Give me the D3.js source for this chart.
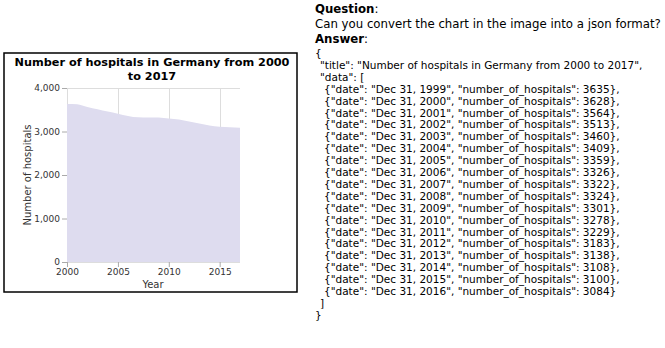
<!DOCTYPE html>
<html>
<head>
<meta charset="utf-8">
<script src="https://cdn.jsdelivr.net/npm/d3@7"></script>
<style>
  html, body { margin: 0; padding: 0; background: #fff; }
  svg { display: block; }
  text { font-family: "DejaVu Sans", sans-serif; }
</style>
</head>
<body>
<svg id="chart" width="665" height="348"></svg>
<script>
// ---- data ----
const chartTitle = ["Number of hospitals in Germany from 2000", "to 2017"];
const fullTitle = "Number of hospitals in Germany from 2000 to 2017";
const dates = ["Dec 31, 1999", "Dec 31, 2000", "Dec 31, 2001", "Dec 31, 2002", "Dec 31, 2003",
  "Dec 31, 2004", "Dec 31, 2005", "Dec 31, 2006", "Dec 31, 2007", "Dec 31, 2008", "Dec 31, 2009",
  "Dec 31, 2010", "Dec 31, 2011", "Dec 31, 2012", "Dec 31, 2013", "Dec 31, 2014", "Dec 31, 2015",
  "Dec 31, 2016"];
const hospitals = [3635, 3628, 3564, 3513, 3460, 3409, 3359, 3326, 3322, 3324, 3301, 3278, 3229,
  3183, 3138, 3108, 3100, 3084];
const yTicks = [0, 1000, 2000, 3000, 4000];
const xTickYears = [2000, 2005, 2010, 2015];
const xTitle = "Year";
const yTitle = "Number of hospitals";
const question = "Can you convert the chart in the image into a json format?";

const parse = d3.timeParse("%b %d, %Y");
const data = dates.map((d, i) => ({ label: d, date: parse(d), value: hospitals[i] }));

const svg = d3.select("#chart");
svg.append("rect").attr("width", 665).attr("height", 348).attr("fill", "#fff");

// fit a text's font size so its width matches a target
function fitSize(sel, base, target) {
  sel.attr("font-size", base);
  const w = sel.node().getComputedTextLength();
  const s = base * target / w;
  sel.attr("font-size", s);
  return s;
}

// ---- chart box ----
svg.append("rect").attr("x", 4).attr("y", 53).attr("width", 293).attr("height", 239)
  .attr("fill", "#fff").attr("stroke", "#000").attr("stroke-width", 1.5);

const plot = { left: 67, right: 240, top: 88, bottom: 262 };
const x = d3.scaleTime()
  .domain(d3.extent(data, d => d.date))
  .range([plot.left, plot.right]);
const y = d3.scaleLinear().domain([0, 4000]).range([plot.bottom, plot.top]);
const xTickDates = xTickYears.map(yr => new Date(yr, 0, 1));

// grid
const g = svg.append("g");
g.selectAll("line.hg").data(yTicks).join("line")
  .attr("x1", plot.left).attr("x2", plot.right)
  .attr("y1", d => Math.round(y(d)) + 0.5).attr("y2", d => Math.round(y(d)) + 0.5)
  .attr("stroke", "#ddd").attr("stroke-width", 1);
g.selectAll("line.vg").data(xTickDates).join("line")
  .attr("x1", d => Math.round(x(d)) + 0.5).attr("x2", d => Math.round(x(d)) + 0.5)
  .attr("y1", plot.top).attr("y2", plot.bottom)
  .attr("stroke", "#ddd").attr("stroke-width", 1);

// area
const area = d3.area()
  .x(d => x(d.date)).y0(y(0)).y1(d => y(d.value))
  .curve(d3.curveMonotoneX);
svg.append("path").datum(data).attr("d", area).attr("fill", "#dedcef");

// axes
const yAxis = d3.axisLeft(y).tickValues(yTicks).tickFormat(d3.format(",")).tickSize(5).tickPadding(2);
const yg = svg.append("g").attr("transform", `translate(${plot.left},0)`).call(yAxis);
yg.select(".domain").remove();
yg.selectAll(".tick line").attr("stroke", "#aaa");
yg.selectAll(".tick text").attr("font-family", "DejaVu Sans").attr("font-size", 9).attr("fill", "#333");

const xAxis = d3.axisBottom(x).tickValues(xTickDates).tickFormat(d3.timeFormat("%Y")).tickSize(5).tickPadding(2);
const xg = svg.append("g").attr("transform", `translate(0,${plot.bottom})`).call(xAxis);
xg.select(".domain").remove();
xg.selectAll(".tick line").attr("stroke", "#aaa");
xg.selectAll(".tick text").attr("font-family", "DejaVu Sans").attr("font-size", 9).attr("fill", "#333");

// titles
svg.append("text").attr("x", 153).attr("y", 288).attr("text-anchor", "middle")
  .attr("font-size", 10).attr("fill", "#333").text(xTitle);
svg.append("text").attr("transform", "translate(31,175) rotate(-90)").attr("text-anchor", "middle")
  .attr("font-size", 10).attr("fill", "#333").text(yTitle);
const t1 = svg.append("text").attr("x", 152).attr("y", 66).attr("text-anchor", "middle")
  .attr("font-weight", "bold").attr("fill", "#000").text(chartTitle[0]);
const tSize = fitSize(t1, 11, 275);
svg.append("text").attr("x", 152).attr("y", 80).attr("text-anchor", "middle")
  .attr("font-size", tSize).attr("font-weight", "bold").attr("fill", "#000").text(chartTitle[1]);

// ---- Q&A text ----
const tx = 315;
const qLine = svg.append("text").attr("x", tx).attr("y", 28).attr("fill", "#000").text(question);
const qSize = fitSize(qLine, 12, 346);
const q = svg.append("text").attr("x", tx).attr("y", 13).attr("font-size", qSize).attr("fill", "#000");
q.append("tspan").attr("font-weight", "bold").text("Question");
q.append("tspan").text(":");
const a = svg.append("text").attr("x", tx).attr("y", 43).attr("font-size", qSize).attr("fill", "#000");
a.append("tspan").attr("font-weight", "bold").text("Answer");
a.append("tspan").text(":");

const jsonLines = [];
jsonLines.push({ indent: 0, text: "{" });
jsonLines.push({ indent: 1, text: `"title": "${fullTitle}",` });
jsonLines.push({ indent: 1, text: `"data": [` });
data.forEach((d, i) => {
  jsonLines.push({ indent: 2, text: `{"date": "${d.label}", "number_of_hospitals": ${d.value}}${i < data.length - 1 ? "," : ""}` });
});
jsonLines.push({ indent: 1, text: "]" });
jsonLines.push({ indent: 0, text: "}" });
const indentX = [315, 320, 324];
const jsonSel = jsonLines.map((l, i) =>
  svg.append("text").attr("x", indentX[l.indent]).attr("y", 57 + i * 11.9)
    .attr("fill", "#000").text(l.text));
const jSize = fitSize(jsonSel[3], 9.5, 296);
jsonSel.forEach(s => s.attr("font-size", jSize));
</script>
</body>
</html>
